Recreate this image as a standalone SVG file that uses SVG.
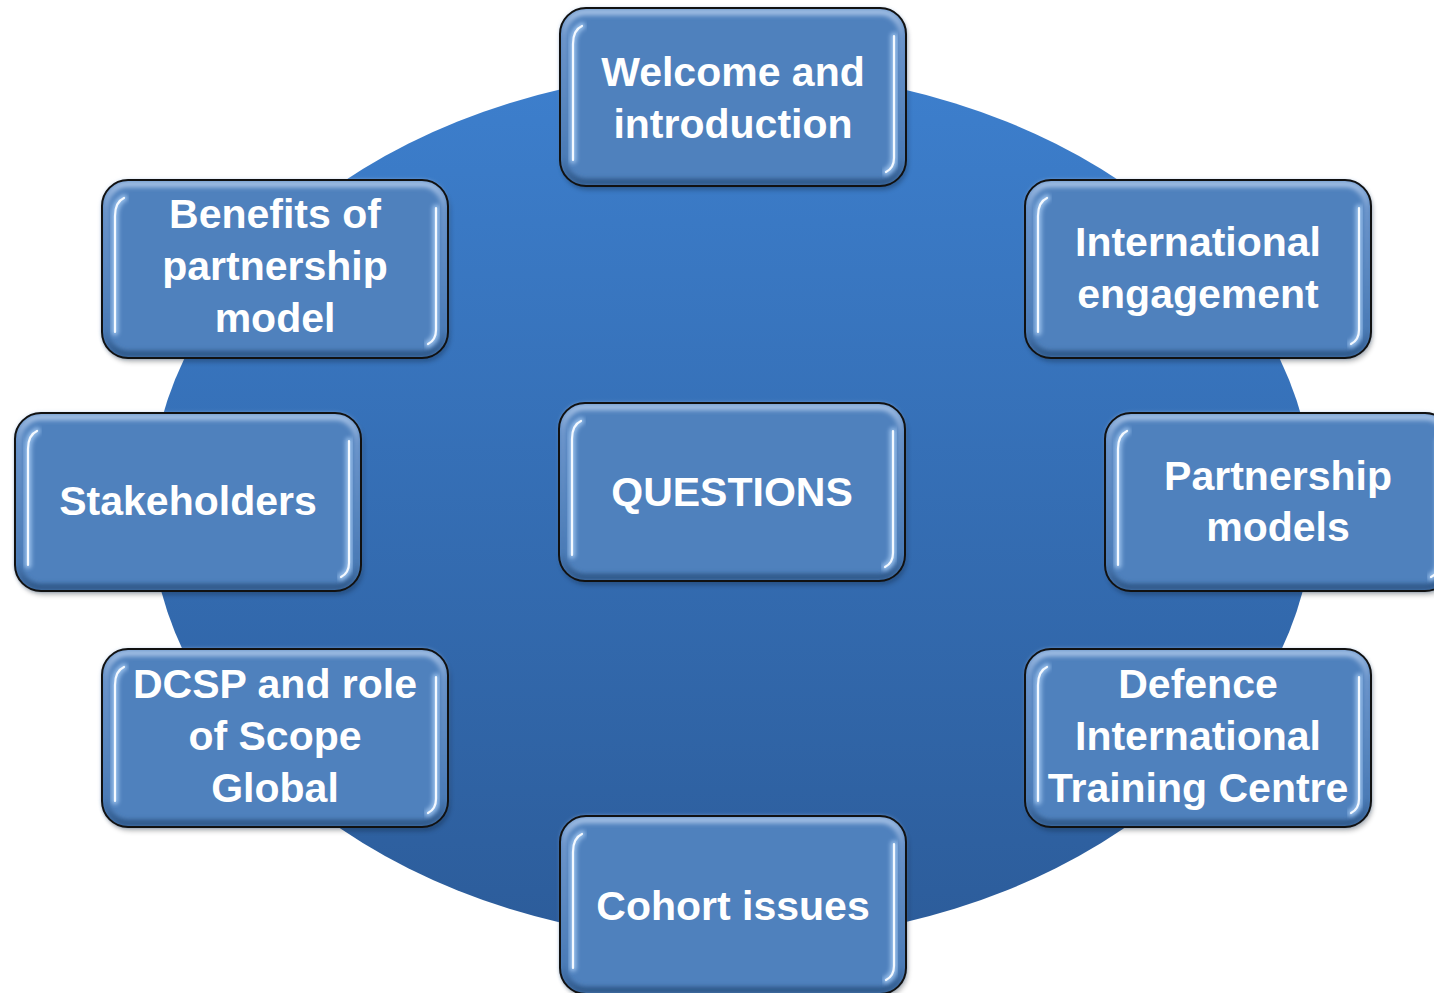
<svg xmlns="http://www.w3.org/2000/svg" xmlns:xlink="http://www.w3.org/1999/xlink" width="1434" height="993" viewBox="0 0 1434 993">
<defs>
<style>
.lbl{font-family:"Liberation Sans",Arial,sans-serif;font-weight:bold;font-size:41px;fill:#ffffff;text-anchor:middle}
.hl{fill:none;stroke:#f4f9ff;stroke-width:2.2;stroke-linecap:round}
.hlg{fill:none;stroke:#a9cdf5;stroke-width:7;stroke-linecap:round;opacity:0.8}
</style>
<linearGradient id="bg" x1="0" y1="0" x2="0" y2="1">
<stop offset="0" stop-color="#3d7fcd"/>
<stop offset="1" stop-color="#2c5c9a"/>
</linearGradient>
<linearGradient id="bev" x1="0" y1="0" x2="0" y2="1">
<stop offset="0" stop-color="#9fbde3"/>
<stop offset="0.15" stop-color="#6f97cc"/>
<stop offset="0.85" stop-color="#4a7ab5"/>
<stop offset="1" stop-color="#2f5889"/>
</linearGradient>
<filter id="blur2" x="-10%" y="-10%" width="120%" height="120%"><feGaussianBlur stdDeviation="2"/></filter>
<filter id="glow" x="-50%" y="-10%" width="200%" height="120%"><feGaussianBlur stdDeviation="2.2"/></filter>
<filter id="soft" x="-50%" y="-10%" width="200%" height="120%"><feGaussianBlur stdDeviation="0.6"/></filter>
<filter id="shadow" x="-10%" y="-10%" width="120%" height="130%"><feGaussianBlur stdDeviation="2.5"/></filter>
<g id="box">
<rect x="2" y="4" width="346" height="178" rx="26" fill="#000" opacity="0.25" filter="url(#shadow)"/>
<rect x="0" y="0" width="346" height="178" rx="26" fill="#4f81bd"/>
<rect x="4" y="4" width="338" height="170" rx="22" fill="none" stroke="url(#bev)" stroke-width="7" filter="url(#blur2)"/>
<rect x="0" y="0" width="346" height="178" rx="26" fill="none" stroke="#111" stroke-width="2"/>
<path class="hlg" filter="url(#glow)" d="M22,18 Q13,22 13,36 L13,152"/>
<path class="hl" filter="url(#soft)" d="M22,18 Q13,22 13,36 L13,152"/>
<path class="hlg" filter="url(#glow)" d="M334,28 L334,150 Q334,160 326,164"/>
<path class="hl" filter="url(#soft)" d="M334,28 L334,150 Q334,160 326,164"/>
</g>
</defs>
<rect x="0" y="0" width="1434" height="993" fill="#ffffff"/>
<ellipse id="backdrop" cx="732" cy="506" rx="582" ry="436" fill="url(#bg)"/>
<g id="connectors"/>
<g id="n-welcome" transform="translate(560,8)"><use href="#box"/><text class="lbl" x="173" y="78">Welcome and</text><text class="lbl" x="173" y="130">introduction</text></g>
<g id="n-benefits" transform="translate(102,180)"><use href="#box"/><text class="lbl" x="173" y="48">Benefits of</text><text class="lbl" x="173" y="100">partnership</text><text class="lbl" x="173" y="152">model</text></g>
<g id="n-international" transform="translate(1025,180)"><use href="#box"/><text class="lbl" x="173" y="76">International</text><text class="lbl" x="173" y="128">engagement</text></g>
<g id="n-stakeholders" transform="translate(15,413)"><use href="#box"/><text class="lbl" x="173" y="102">Stakeholders</text></g>
<g id="n-questions" transform="translate(559,403)"><use href="#box"/><text class="lbl" x="173" y="103">QUESTIONS</text></g>
<g id="n-partnership" transform="translate(1105,413)"><use href="#box"/><text class="lbl" x="173" y="77">Partnership</text><text class="lbl" x="173" y="128">models</text></g>
<g id="n-dcsp" transform="translate(102,649)"><use href="#box"/><text class="lbl" x="173" y="49">DCSP and role</text><text class="lbl" x="173" y="101">of Scope</text><text class="lbl" x="173" y="153">Global</text></g>
<g id="n-defence" transform="translate(1025,649)"><use href="#box"/><text class="lbl" x="173" y="49">Defence</text><text class="lbl" x="173" y="101">International</text><text class="lbl" x="173" y="153">Training Centre</text></g>
<g id="n-cohort" transform="translate(560,816)"><use href="#box"/><text class="lbl" x="173" y="104">Cohort issues</text></g>
</svg>
